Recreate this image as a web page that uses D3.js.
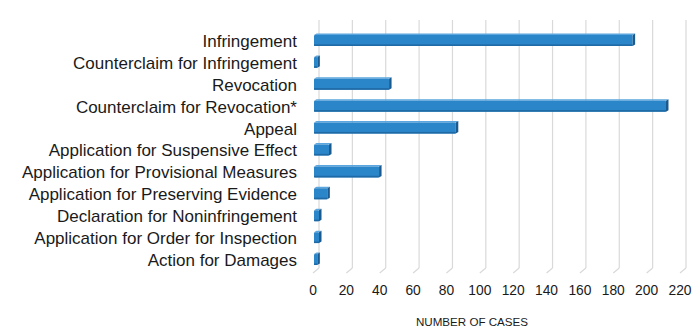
<!DOCTYPE html>
<html><head><meta charset="utf-8">
<script src="https://cdn.jsdelivr.net/npm/d3@7"></script>
<style>body{margin:0;background:#fff}svg{display:block}</style>
</head><body>
<svg id="c" width="700" height="328"></svg>
<script>
const categories = ["Infringement","Counterclaim for Infringement","Revocation","Counterclaim for Revocation*","Appeal","Application for Suspensive Effect","Application for Provisional Measures","Application for Preserving Evidence","Declaration for Noninfringement","Application for Order for Inspection","Action for Damages"];
const values = [191,2,45,211,85,9,39,8,3,3,2];
const ticks = [0,20,40,60,80,100,120,140,160,180,200,220];
const axisTitle = "NUMBER OF CASES";

const svg = d3.select("#c");
const x = d3.scaleLinear().domain([0,220]).range([314,681]);
const y = d3.scaleBand().domain(categories).range([29.5,270.5]).paddingInner(0.5).paddingOuter(0.25);
const dx = 5, dy = -5; // depth offset
const floorY = 273;

// gridlines on back wall
const g = svg.append("g");
ticks.forEach(t=>{
  g.append("line").attr("x1",x(t)+dx).attr("x2",x(t)+dx).attr("y1",20).attr("y2",floorY+dy)
    .attr("stroke","#d9d9d9").attr("stroke-width",1.2);
  g.append("line").attr("x1",x(t)-1).attr("x2",x(t)+dx).attr("y1",floorY).attr("y2",floorY+dy)
    .attr("stroke","#d9d9d9").attr("stroke-width",1.2);
});

// bars
const bars = svg.append("g").selectAll("g").data(categories).join("g");
bars.each(function(c,i){
  const sel = d3.select(this);
  const x0 = x(0), x1 = x(values[i]);
  const cy = y(c), h = y.bandwidth();
  const d = 2.5;
  sel.append("path").attr("d",`M${x0},${cy}L${x0+d},${cy-d*0.6}L${x1+d},${cy-d*0.6}L${x1},${cy}Z`).attr("fill","#5ba6de");
  sel.append("rect").attr("x",x0).attr("y",cy).attr("width",Math.max(0,x1-x0)).attr("height",h).attr("fill","#2b85c9").attr("rx",1);
  sel.append("rect").attr("x",x0).attr("y",cy+h-1.6).attr("width",Math.max(0,x1-x0)).attr("height",1.6).attr("fill","#1f6aa5");
  sel.append("path").attr("d",`M${x1},${cy}L${x1+d},${cy-d*0.6}L${x1+d},${cy+h-d*0.6}L${x1},${cy+h}Z`).attr("fill","#1b5a8e");
});

// category labels
svg.append("g").selectAll("text").data(categories).join("text")
  .attr("x",297).attr("y",c=>y(c)+y.bandwidth()/2+0.5).attr("dy","0.35em")
  .attr("text-anchor","end").attr("font-family","Liberation Sans, Arial, sans-serif")
  .attr("font-size",17).attr("fill","#1a1a1a").text(c=>c);

// tick labels
svg.append("g").selectAll("text").data(ticks).join("text")
  .attr("x",t=>x(t)-1).attr("y",290).attr("dy","0.35em").attr("text-anchor","middle")
  .attr("font-family","Liberation Sans, Arial, sans-serif").attr("font-size",13.8).attr("fill","#1a1a1a").text(t=>t);

svg.append("text").attr("x",472).attr("y",322).attr("dy","0.35em").attr("text-anchor","middle")
  .attr("font-family","Liberation Sans, Arial, sans-serif").attr("font-size",11.6).attr("fill","#1a1a1a").text(axisTitle);
</script>
</body></html>
